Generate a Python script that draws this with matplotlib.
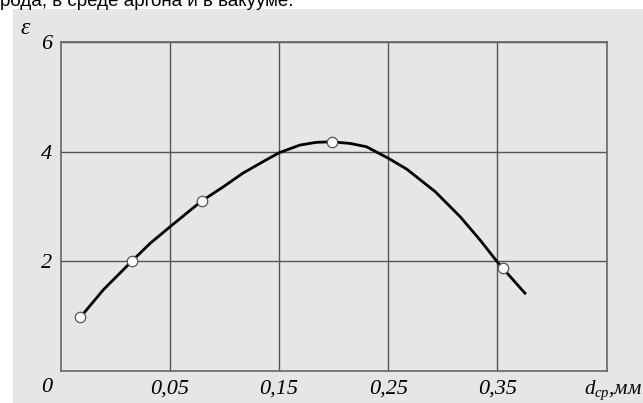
import matplotlib.pyplot as plt
from matplotlib.patches import Rectangle

plt.rcParams['mathtext.fontset'] = 'custom'
plt.rcParams['mathtext.it'] = 'Liberation Serif:italic'
plt.rcParams['mathtext.rm'] = 'Liberation Serif'

# measured points (open circles)
pt_x = [-0.032, 0.015, 0.079, 0.198, 0.355]
pt_y = [0.98, 2.00, 3.10, 4.18, 1.87]

# smooth curve
curve_x = [-0.032, -0.011, 0.015, 0.032, 0.0495, 0.079, 0.099, 0.117, 0.1355,
           0.150, 0.169, 0.184, 0.198, 0.215, 0.230, 0.250, 0.267, 0.293,
           0.316, 0.334, 0.349, 0.355, 0.376]
curve_y = [0.98, 1.48, 2.00, 2.33, 2.62, 3.10, 3.36, 3.61, 3.82,
           3.98, 4.12, 4.17, 4.18, 4.15, 4.09, 3.88, 3.68, 3.27,
           2.81, 2.39, 2.01, 1.87, 1.40]

xticks = [0.05, 0.15, 0.25, 0.35]
xtick_labels = ['0,05', '0,15', '0,25', '0,35']
yticks = [2, 4, 6]
ytick_labels = ['2', '4', '6']

bg = '#e6e6e6'
grid_c = '#555555'
serif_it = {'family': 'Liberation Serif', 'style': 'italic'}

fig = plt.figure(figsize=(6.43, 4.03), dpi=100, facecolor='white')
fig.patches.append(Rectangle((13 / 643, 0), 1, (403 - 9) / 403,
                             transform=fig.transFigure, facecolor=bg,
                             edgecolor='none', zorder=-10))
# caption line cut off at the top, as in the source scan
fig.text(0.0, 1 - 6 / 403, 'рода, в среде аргона и в вакууме.',
         family='Liberation Sans', fontsize=13.5, va='baseline', ha='left')

ax = fig.add_axes([60.7 / 643, (403 - 371) / 403, 546 / 643, 329 / 403])
ax.set_facecolor(bg)
ax.set_xlim(-0.05, 0.45)
ax.set_ylim(0, 6)

ax.plot(curve_x, curve_y, color='black', lw=2.0, zorder=3,
        solid_joinstyle='round', solid_capstyle='butt')
ax.plot(pt_x, pt_y, 'o', ms=7.5, mfc='white', mec='#555555', mew=0.9, zorder=4)

ax.set_xticks(xticks)
ax.set_xticklabels(xtick_labels, fontdict=serif_it, fontsize=16)
ax.set_yticks(yticks)
ax.set_yticklabels(ytick_labels, fontdict=serif_it, fontsize=16)
ax.tick_params(length=0, pad=6)
ax.grid(True, color=grid_c, lw=1.0)
for s in ax.spines.values():
    s.set_color('#666666')
    s.set_linewidth(1.2)

fig.text(47 / 643, 1 - 388 / 403, '0', fontdict=serif_it, fontsize=16,
         ha='center', va='center')
fig.text(25 / 643, 1 - 28 / 403, 'ε', fontdict=serif_it, fontsize=17,
         ha='center', va='center')
fig.text(584 / 643, 1 - 390 / 403, r'$d_{\mathit{ср}}$,мм', fontdict=serif_it,
         fontsize=15, ha='left', va='center')

plt.savefig('out.png', dpi=100)
